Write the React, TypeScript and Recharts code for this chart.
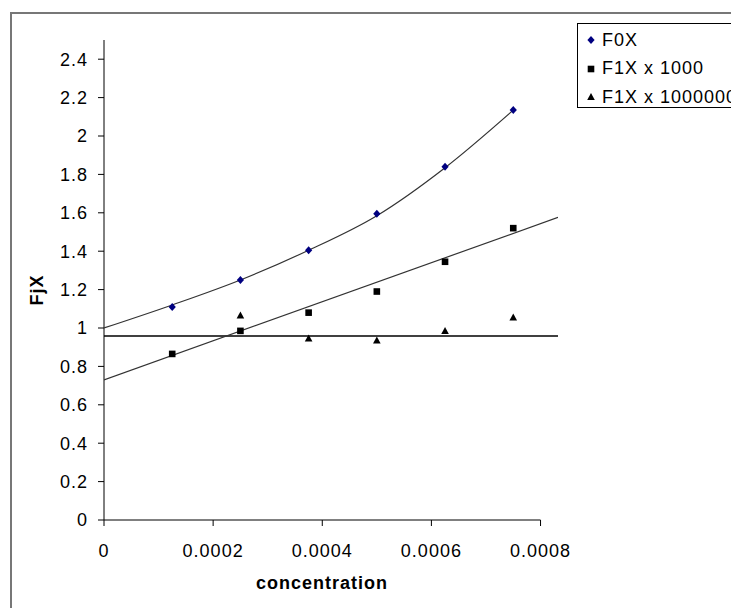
import React from 'react';
import { ScatterChart, Scatter, XAxis, YAxis, ReferenceLine } from 'recharts';

// concentration values of the measured points
const CONC = [0.000125, 0.00025, 0.000375, 0.0005, 0.000625, 0.00075];
// measured series
const F0X = [1.11, 1.25, 1.405, 1.595, 1.84, 2.135];
const F1X_1000 = [0.865, 0.985, 1.08, 1.19, 1.345, 1.52];
const F1X_1000000 = [null, 1.065, 0.945, 0.935, 0.985, 1.055];

// trend lines
const F0X_TREND_CONC = [0, 0.000125, 0.00025, 0.000375, 0.0005, 0.000625, 0.00075];
const F0X_TREND = [1.0, 1.12, 1.25, 1.405, 1.585, 1.835, 2.135];
const F1X_1000_TREND_CONC = [0, 0.000832];
const F1X_1000_TREND = [0.73, 1.576];
const F1X_1000000_TREND = 0.958;

const X_TICKS = [0, 0.0002, 0.0004, 0.0006, 0.0008];
const Y_TICKS = [0, 0.2, 0.4, 0.6, 0.8, 1, 1.2, 1.4, 1.6, 1.8, 2, 2.2, 2.4];
const LEGEND = ['F0X', 'F1X x 1000', 'F1X x 1000000'];

const FONT = 'Arial, "Liberation Sans", sans-serif';

const toPts = (xs: number[], ys: (number | null)[]) =>
  xs.map((x, i) => ({ x, y: ys[i] })).filter((p) => p.y !== null && p.y !== undefined);

const f0 = toPts(CONC, F0X);
const f1 = toPts(CONC, F1X_1000);
const f2 = toPts(CONC, F1X_1000000);
const t0 = toPts(F0X_TREND_CONC, F0X_TREND);
const t1 = toPts(F1X_1000_TREND_CONC, F1X_1000_TREND);

const Diamond = (p: any) => {
  const { cx, cy } = p;
  return <path d={`M${cx},${cy - 4}L${cx + 3.6},${cy}L${cx},${cy + 4}L${cx - 3.6},${cy}Z`} fill="#000080" />;
};
const Square = (p: any) => {
  const { cx, cy } = p;
  return <rect x={cx - 3.3} y={cy - 3.3} width={6.6} height={6.6} fill="#000" />;
};
const Triangle = (p: any) => {
  const { cx, cy } = p;
  return <path d={`M${cx},${cy - 4}L${cx + 3.8},${cy + 3}L${cx - 3.8},${cy + 3}Z`} fill="#000" />;
};
const Nothing = () => <g />;

const tickStyle = { fill: '#000', fontSize: 18, fontFamily: FONT, letterSpacing: 1 };

export default function App() {
  return (
    <div
      style={{
        position: 'absolute',
        left: 0,
        top: 0,
        width: 731,
        height: 608,
        overflow: 'hidden',
        background: '#fff',
        fontFamily: FONT,
      }}
    >
      <div
        style={{
          position: 'absolute',
          left: 10,
          top: 12,
          width: 760,
          height: 700,
          borderLeft: '2px solid #777',
          borderTop: '2px solid #777',
        }}
      />
      <div style={{ position: 'absolute', left: 0, top: 0 }}>
        <ScatterChart width={731} height={608} margin={{ top: 40, right: 173, bottom: 28, left: 44 }}>
          <XAxis
            type="number"
            dataKey="x"
            domain={[0, 0.000832]}
            allowDataOverflow
            ticks={X_TICKS}
            axisLine={false}
            tickLine={{ stroke: '#000' }}
            tickSize={6}
            tickMargin={18}
            height={60}
            tick={tickStyle}
            interval={0}
          />
          <YAxis
            type="number"
            dataKey="y"
            domain={[0, 2.5]}
            allowDataOverflow
            ticks={Y_TICKS}
            axisLine={{ stroke: '#000' }}
            tickLine={{ stroke: '#000' }}
            tickSize={6}
            tickMargin={10}
            width={60}
            tick={tickStyle}
            interval={0}
          />
          <ReferenceLine
            segment={[
              { x: 0, y: 0 },
              { x: 0.0008, y: 0 },
            ]}
            stroke="#000"
            strokeWidth={1}
            ifOverflow="visible"
          />
          <ReferenceLine y={F1X_1000000_TREND} stroke="#000" strokeWidth={1.5} />
          <Scatter
            data={t0}
            shape={Nothing}
            line={{ stroke: '#333', strokeWidth: 1.2 }}
            lineJointType="monotoneX"
            isAnimationActive={false}
          />
          <Scatter
            data={t1}
            shape={Nothing}
            line={{ stroke: '#333', strokeWidth: 1.2 }}
            isAnimationActive={false}
          />
          <Scatter data={f0} shape={Diamond} isAnimationActive={false} />
          <Scatter data={f1} shape={Square} isAnimationActive={false} />
          <Scatter data={f2} shape={Triangle} isAnimationActive={false} />
        </ScatterChart>
      </div>
      <div
        style={{
          position: 'absolute',
          left: 256,
          top: 571,
          width: 132,
          textAlign: 'center',
          fontWeight: 'bold',
          fontSize: 18,
          letterSpacing: 1,
          lineHeight: '24px',
          whiteSpace: 'nowrap',
        }}
      >
        concentration
      </div>
      <div
        style={{
          position: 'absolute',
          left: 37,
          top: 290,
          transform: 'translate(-50%, -50%) rotate(-90deg)',
          fontWeight: 'bold',
          fontSize: 18,
          letterSpacing: 1,
          lineHeight: '22px',
          whiteSpace: 'nowrap',
        }}
      >
        FjX
      </div>
      <div
        style={{
          position: 'absolute',
          left: 577,
          top: 23,
          width: 200,
          height: 83,
          border: '1px solid #000',
          background: '#fff',
        }}
      >
        {LEGEND.map((name, i) => (
          <div
            key={name}
            style={{
              position: 'absolute',
              left: 0,
              top: 5 + i * 28.5,
              height: 22,
              display: 'flex',
              alignItems: 'center',
              fontSize: 18,
              letterSpacing: 1,
              whiteSpace: 'nowrap',
            }}
          >
            <svg width={24} height={22} style={{ flex: 'none' }}>
              {i === 0 && <Diamond cx={13} cy={11} />}
              {i === 1 && <Square cx={13} cy={11} />}
              {i === 2 && <Triangle cx={13} cy={11} />}
            </svg>
            <span>{name}</span>
          </div>
        ))}
      </div>
    </div>
  );
}
